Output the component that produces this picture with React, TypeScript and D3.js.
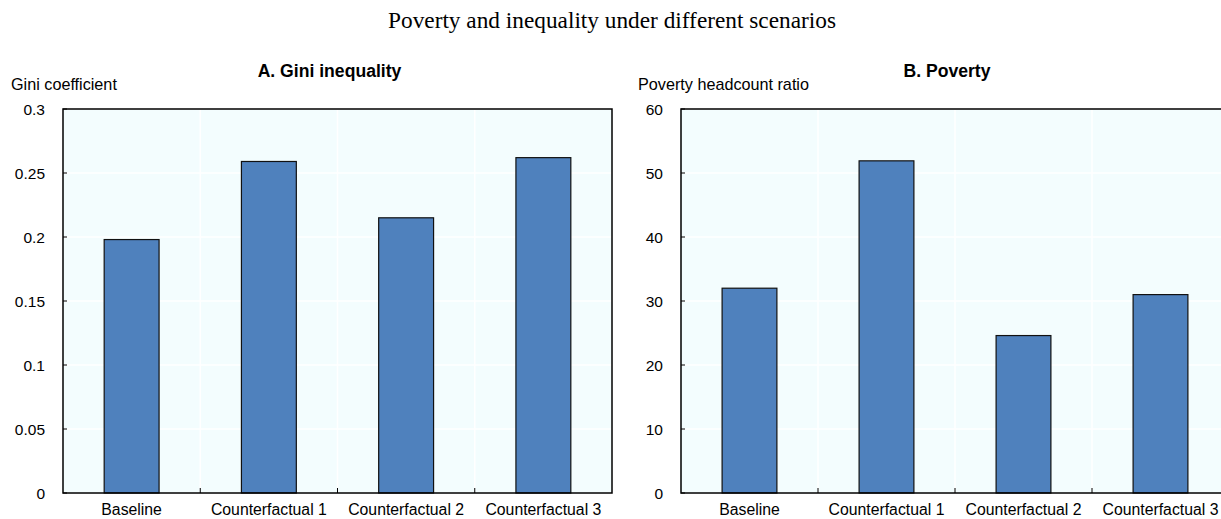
import React from "react";
import * as d3 from "d3";

const categories = ["Baseline", "Counterfactual 1", "Counterfactual 2", "Counterfactual 3"];
const giniValues = [0.198, 0.259, 0.215, 0.262];
const povertyValues = [32.0, 51.9, 24.6, 31.0];
const giniTicks = [0, 0.05, 0.1, 0.15, 0.2, 0.25, 0.3];
const povertyTicks = [0, 10, 20, 30, 40, 50, 60];

const W = 1221;
const H = 519;
const TOP = 109;
const BOTTOM = 493;

type PanelProps = {
  left: number;
  right: number;
  title: string;
  yLabel: string;
  yLabelX: number;
  values: number[];
  ticks: number[];
  max: number;
  fmt: (v: number) => string;
};

function Panel({ left, right, title, yLabel, yLabelX, values, ticks, max, fmt }: PanelProps) {
  const x = d3.scaleBand<string>().domain(categories).range([left, right]).paddingInner(0).paddingOuter(0);
  const y = d3.scaleLinear().domain([0, max]).range([BOTTOM, TOP]);
  const bw = x.bandwidth() * 0.4;
  const font = "'Liberation Sans', Arial, sans-serif";
  return (
    <g>
      <rect x={left} y={TOP} width={right - left} height={BOTTOM - TOP} fill="#f3fdfe" />
      {ticks.map((t) => (
        <line key={"h" + t} x1={left} x2={right} y1={y(t)} y2={y(t)} stroke="#ffffff" strokeWidth={1.5} />
      ))}
      {categories.slice(1).map((c) => (
        <line key={"v" + c} x1={x(c)!} x2={x(c)!} y1={TOP} y2={BOTTOM} stroke="#ffffff" strokeWidth={1.5} />
      ))}
      {categories.map((c, i) => (
        <rect
          key={c}
          x={x(c)! + (x.bandwidth() - bw) / 2}
          y={y(values[i])}
          width={bw}
          height={BOTTOM - y(values[i])}
          fill="#4f81bd"
          stroke="#111"
          strokeWidth={1.2}
        />
      ))}
      {ticks.map((t) => (
        <g key={"t" + t}>
          <line x1={left} x2={left + 4} y1={y(t)} y2={y(t)} stroke="#000" strokeWidth={1} />
          <text x={left - 18} y={y(t) + 6} textAnchor="end" fontFamily={font} fontSize={15.5} fill="#000">
            {fmt(t)}
          </text>
        </g>
      ))}
      {categories.slice(1).map((c) => (
        <line key={"xt" + c} x1={x(c)!} x2={x(c)!} y1={BOTTOM} y2={BOTTOM - 5} stroke="#000" strokeWidth={1} />
      ))}
      {categories.map((c) => (
        <text
          key={"xl" + c}
          x={x(c)! + x.bandwidth() / 2}
          y={515}
          textAnchor="middle"
          fontFamily={font}
          fontSize={15.8}
          fill="#000"
        >
          {c}
        </text>
      ))}
      <rect x={left} y={TOP} width={right - left} height={BOTTOM - TOP} fill="none" stroke="#000" strokeWidth={1.5} />
      <text x={(left + right) / 2 - 8} y={77} textAnchor="middle" fontFamily={font} fontWeight="bold" fontSize={17.6} fill="#000">
        {title}
      </text>
      <text x={yLabelX} y={90} textAnchor="start" fontFamily={font} fontSize={16.2} fill="#000">
        {yLabel}
      </text>
    </g>
  );
}

export default function App() {
  return (
    <div style={{ position: "absolute", left: 0, top: 0 }}>
      <svg width={W} height={H} style={{ display: "block", background: "#fff" }}>
        <text
          x={612}
          y={28}
          textAnchor="middle"
          fontFamily="'Liberation Serif', 'Times New Roman', serif"
          fontSize={23.3}
          fill="#000"
        >
          Poverty and inequality under different scenarios
        </text>
        <Panel
          left={63}
          right={612}
          title="A. Gini inequality"
          yLabel="Gini coefficient"
          yLabelX={11}
          values={giniValues}
          ticks={giniTicks}
          max={0.3}
          fmt={(v) => String(+v.toFixed(2))}
        />
        <Panel
          left={681}
          right={1229}
          title="B. Poverty"
          yLabel="Poverty headcount ratio"
          yLabelX={638}
          values={povertyValues}
          ticks={povertyTicks}
          max={60}
          fmt={(v) => String(v)}
        />
      </svg>
    </div>
  );
}
